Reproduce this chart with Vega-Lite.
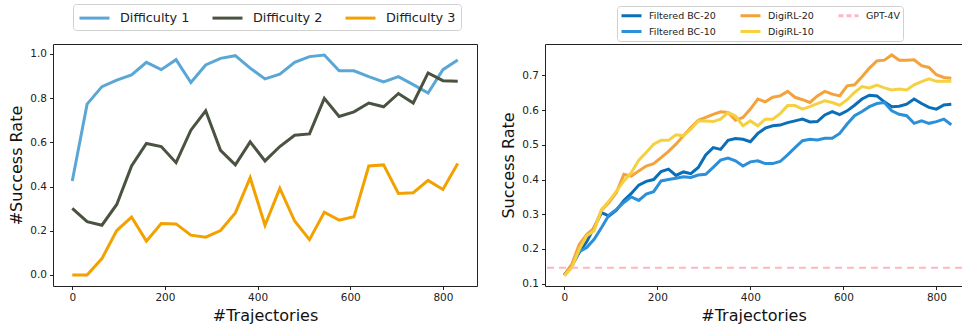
{
  "$schema": "https://vega.github.io/schema/vega-lite/v6.json",
  "autosize": {"type": "pad"},
  "padding": {"left": 8, "top": 3, "right": 0, "bottom": 0},
  "bounds": "flush",
  "spacing": 68,
  "resolve": {"scale": {"color": "independent"}, "legend": {"color": "independent"}},
  "config": {
    "font": "DejaVu Sans",
    "view": {"stroke": "#222", "strokeWidth": 1},
    "axis": {"grid": false, "domain": false, "tickColor": "#222", "tickSize": 3.5, "labelFontSize": 10.5, "labelColor": "#222", "titleFontSize": 16, "titleFontWeight": "normal", "titleColor": "#111", "labelPadding": 3, "titlePadding": 4, "labelFlush": false, "labelOverlap": false},
    "legend": {"fillColor": "white", "strokeColor": "#d0d0d0", "cornerRadius": 3, "labelColor": "#222", "symbolStrokeWidth": 3}
  },
  "hconcat": [
    {
      "width": 424,
      "height": 242,
      "data": {"values": [
        {"s":"Difficulty 1","t":0,"v":0.425},{"s":"Difficulty 1","t":32,"v":0.773},{"s":"Difficulty 1","t":64,"v":0.852},{"s":"Difficulty 1","t":96,"v":0.882},{"s":"Difficulty 1","t":128,"v":0.905},{"s":"Difficulty 1","t":160,"v":0.962},{"s":"Difficulty 1","t":192,"v":0.929},{"s":"Difficulty 1","t":224,"v":0.974},{"s":"Difficulty 1","t":256,"v":0.871},{"s":"Difficulty 1","t":288,"v":0.95},{"s":"Difficulty 1","t":320,"v":0.98},{"s":"Difficulty 1","t":352,"v":0.992},{"s":"Difficulty 1","t":384,"v":0.936},{"s":"Difficulty 1","t":416,"v":0.887},{"s":"Difficulty 1","t":448,"v":0.908},{"s":"Difficulty 1","t":480,"v":0.962},{"s":"Difficulty 1","t":512,"v":0.988},{"s":"Difficulty 1","t":544,"v":0.995},{"s":"Difficulty 1","t":576,"v":0.924},{"s":"Difficulty 1","t":608,"v":0.924},{"s":"Difficulty 1","t":640,"v":0.897},{"s":"Difficulty 1","t":672,"v":0.873},{"s":"Difficulty 1","t":704,"v":0.897},{"s":"Difficulty 1","t":736,"v":0.861},{"s":"Difficulty 1","t":768,"v":0.823},{"s":"Difficulty 1","t":800,"v":0.929},{"s":"Difficulty 1","t":832,"v":0.973},
        {"s":"Difficulty 2","t":0,"v":0.301},{"s":"Difficulty 2","t":32,"v":0.241},{"s":"Difficulty 2","t":64,"v":0.225},{"s":"Difficulty 2","t":96,"v":0.319},{"s":"Difficulty 2","t":128,"v":0.493},{"s":"Difficulty 2","t":160,"v":0.595},{"s":"Difficulty 2","t":192,"v":0.581},{"s":"Difficulty 2","t":224,"v":0.508},{"s":"Difficulty 2","t":256,"v":0.655},{"s":"Difficulty 2","t":288,"v":0.743},{"s":"Difficulty 2","t":320,"v":0.564},{"s":"Difficulty 2","t":352,"v":0.498},{"s":"Difficulty 2","t":384,"v":0.602},{"s":"Difficulty 2","t":416,"v":0.516},{"s":"Difficulty 2","t":448,"v":0.581},{"s":"Difficulty 2","t":480,"v":0.632},{"s":"Difficulty 2","t":512,"v":0.638},{"s":"Difficulty 2","t":544,"v":0.799},{"s":"Difficulty 2","t":576,"v":0.717},{"s":"Difficulty 2","t":608,"v":0.738},{"s":"Difficulty 2","t":640,"v":0.778},{"s":"Difficulty 2","t":672,"v":0.761},{"s":"Difficulty 2","t":704,"v":0.821},{"s":"Difficulty 2","t":736,"v":0.778},{"s":"Difficulty 2","t":768,"v":0.914},{"s":"Difficulty 2","t":800,"v":0.879},{"s":"Difficulty 2","t":832,"v":0.877},
        {"s":"Difficulty 3","t":0,"v":0},{"s":"Difficulty 3","t":32,"v":0},{"s":"Difficulty 3","t":64,"v":0.074},{"s":"Difficulty 3","t":96,"v":0.201},{"s":"Difficulty 3","t":128,"v":0.262},{"s":"Difficulty 3","t":160,"v":0.153},{"s":"Difficulty 3","t":192,"v":0.233},{"s":"Difficulty 3","t":224,"v":0.231},{"s":"Difficulty 3","t":256,"v":0.18},{"s":"Difficulty 3","t":288,"v":0.171},{"s":"Difficulty 3","t":320,"v":0.201},{"s":"Difficulty 3","t":352,"v":0.281},{"s":"Difficulty 3","t":384,"v":0.44},{"s":"Difficulty 3","t":416,"v":0.225},{"s":"Difficulty 3","t":448,"v":0.392},{"s":"Difficulty 3","t":480,"v":0.244},{"s":"Difficulty 3","t":512,"v":0.16},{"s":"Difficulty 3","t":544,"v":0.284},{"s":"Difficulty 3","t":576,"v":0.248},{"s":"Difficulty 3","t":608,"v":0.263},{"s":"Difficulty 3","t":640,"v":0.493},{"s":"Difficulty 3","t":672,"v":0.498},{"s":"Difficulty 3","t":704,"v":0.369},{"s":"Difficulty 3","t":736,"v":0.372},{"s":"Difficulty 3","t":768,"v":0.428},{"s":"Difficulty 3","t":800,"v":0.387},{"s":"Difficulty 3","t":832,"v":0.504}
      ]},
      "mark": {"type": "line", "strokeWidth": 3, "clip": true},
      "encoding": {
        "x": {"field": "t", "type": "quantitative", "scale": {"domain": [-41.6, 873.6], "nice": false, "zero": false}, "axis": {"values": [0, 200, 400, 600, 800], "title": "#Trajectories"}},
        "y": {"field": "v", "type": "quantitative", "scale": {"domain": [-0.05, 1.045], "nice": false, "zero": false}, "axis": {"values": [0, 0.2, 0.4, 0.6, 0.8, 1.0], "format": ".1f", "title": "#Success Rate", "titlePadding": 5}},
        "color": {"field": "s", "type": "nominal", "scale": {"domain": ["Difficulty 1", "Difficulty 2", "Difficulty 3"], "range": ["#5aa7d6", "#4a5240", "#f2a200"]},
          "legend": {"title": null, "orient": "none", "legendX": 20, "legendY": -40, "columns": 3, "labelFontSize": 12.8, "symbolSize": 225, "symbolType": "M-1,0H3", "columnPadding": 16, "labelOffset": 24, "padding": 5}}
      }
    },
    {
      "width": 417,
      "height": 242,
      "layer": [
        {
          "data": {"values": [
            {"s":"Filtered BC-20","t":0,"v":0.125},{"s":"Filtered BC-20","t":16,"v":0.151},{"s":"Filtered BC-20","t":32,"v":0.19},{"s":"Filtered BC-20","t":48,"v":0.221},{"s":"Filtered BC-20","t":64,"v":0.262},{"s":"Filtered BC-20","t":80,"v":0.305},{"s":"Filtered BC-20","t":96,"v":0.295},{"s":"Filtered BC-20","t":112,"v":0.312},{"s":"Filtered BC-20","t":128,"v":0.34},{"s":"Filtered BC-20","t":144,"v":0.36},{"s":"Filtered BC-20","t":160,"v":0.384},{"s":"Filtered BC-20","t":176,"v":0.395},{"s":"Filtered BC-20","t":192,"v":0.4},{"s":"Filtered BC-20","t":208,"v":0.423},{"s":"Filtered BC-20","t":224,"v":0.43},{"s":"Filtered BC-20","t":240,"v":0.412},{"s":"Filtered BC-20","t":256,"v":0.422},{"s":"Filtered BC-20","t":272,"v":0.417},{"s":"Filtered BC-20","t":288,"v":0.435},{"s":"Filtered BC-20","t":304,"v":0.471},{"s":"Filtered BC-20","t":320,"v":0.492},{"s":"Filtered BC-20","t":336,"v":0.487},{"s":"Filtered BC-20","t":352,"v":0.513},{"s":"Filtered BC-20","t":368,"v":0.518},{"s":"Filtered BC-20","t":384,"v":0.516},{"s":"Filtered BC-20","t":400,"v":0.509},{"s":"Filtered BC-20","t":416,"v":0.533},{"s":"Filtered BC-20","t":432,"v":0.548},{"s":"Filtered BC-20","t":448,"v":0.555},{"s":"Filtered BC-20","t":464,"v":0.557},{"s":"Filtered BC-20","t":480,"v":0.564},{"s":"Filtered BC-20","t":496,"v":0.569},{"s":"Filtered BC-20","t":512,"v":0.574},{"s":"Filtered BC-20","t":528,"v":0.566},{"s":"Filtered BC-20","t":544,"v":0.567},{"s":"Filtered BC-20","t":560,"v":0.586},{"s":"Filtered BC-20","t":576,"v":0.596},{"s":"Filtered BC-20","t":592,"v":0.587},{"s":"Filtered BC-20","t":608,"v":0.598},{"s":"Filtered BC-20","t":624,"v":0.614},{"s":"Filtered BC-20","t":640,"v":0.632},{"s":"Filtered BC-20","t":656,"v":0.643},{"s":"Filtered BC-20","t":672,"v":0.641},{"s":"Filtered BC-20","t":688,"v":0.624},{"s":"Filtered BC-20","t":704,"v":0.61},{"s":"Filtered BC-20","t":720,"v":0.611},{"s":"Filtered BC-20","t":736,"v":0.617},{"s":"Filtered BC-20","t":752,"v":0.632},{"s":"Filtered BC-20","t":768,"v":0.619},{"s":"Filtered BC-20","t":784,"v":0.608},{"s":"Filtered BC-20","t":800,"v":0.603},{"s":"Filtered BC-20","t":816,"v":0.615},{"s":"Filtered BC-20","t":832,"v":0.617},
            {"s":"Filtered BC-10","t":0,"v":0.125},{"s":"Filtered BC-10","t":16,"v":0.154},{"s":"Filtered BC-10","t":32,"v":0.192},{"s":"Filtered BC-10","t":48,"v":0.204},{"s":"Filtered BC-10","t":64,"v":0.228},{"s":"Filtered BC-10","t":80,"v":0.262},{"s":"Filtered BC-10","t":96,"v":0.298},{"s":"Filtered BC-10","t":112,"v":0.314},{"s":"Filtered BC-10","t":128,"v":0.334},{"s":"Filtered BC-10","t":144,"v":0.35},{"s":"Filtered BC-10","t":160,"v":0.34},{"s":"Filtered BC-10","t":176,"v":0.358},{"s":"Filtered BC-10","t":192,"v":0.365},{"s":"Filtered BC-10","t":208,"v":0.396},{"s":"Filtered BC-10","t":224,"v":0.4},{"s":"Filtered BC-10","t":240,"v":0.404},{"s":"Filtered BC-10","t":256,"v":0.408},{"s":"Filtered BC-10","t":272,"v":0.406},{"s":"Filtered BC-10","t":288,"v":0.413},{"s":"Filtered BC-10","t":304,"v":0.415},{"s":"Filtered BC-10","t":320,"v":0.435},{"s":"Filtered BC-10","t":336,"v":0.456},{"s":"Filtered BC-10","t":352,"v":0.462},{"s":"Filtered BC-10","t":368,"v":0.454},{"s":"Filtered BC-10","t":384,"v":0.439},{"s":"Filtered BC-10","t":400,"v":0.451},{"s":"Filtered BC-10","t":416,"v":0.454},{"s":"Filtered BC-10","t":432,"v":0.446},{"s":"Filtered BC-10","t":448,"v":0.446},{"s":"Filtered BC-10","t":464,"v":0.452},{"s":"Filtered BC-10","t":480,"v":0.471},{"s":"Filtered BC-10","t":496,"v":0.492},{"s":"Filtered BC-10","t":512,"v":0.512},{"s":"Filtered BC-10","t":528,"v":0.516},{"s":"Filtered BC-10","t":544,"v":0.514},{"s":"Filtered BC-10","t":560,"v":0.519},{"s":"Filtered BC-10","t":576,"v":0.519},{"s":"Filtered BC-10","t":592,"v":0.533},{"s":"Filtered BC-10","t":608,"v":0.56},{"s":"Filtered BC-10","t":624,"v":0.584},{"s":"Filtered BC-10","t":640,"v":0.596},{"s":"Filtered BC-10","t":656,"v":0.61},{"s":"Filtered BC-10","t":672,"v":0.619},{"s":"Filtered BC-10","t":688,"v":0.622},{"s":"Filtered BC-10","t":704,"v":0.598},{"s":"Filtered BC-10","t":720,"v":0.588},{"s":"Filtered BC-10","t":736,"v":0.584},{"s":"Filtered BC-10","t":752,"v":0.562},{"s":"Filtered BC-10","t":768,"v":0.569},{"s":"Filtered BC-10","t":784,"v":0.562},{"s":"Filtered BC-10","t":800,"v":0.567},{"s":"Filtered BC-10","t":816,"v":0.574},{"s":"Filtered BC-10","t":832,"v":0.558},
            {"s":"DigiRL-20","t":0,"v":0.125},{"s":"DigiRL-20","t":16,"v":0.156},{"s":"DigiRL-20","t":32,"v":0.213},{"s":"DigiRL-20","t":48,"v":0.242},{"s":"DigiRL-20","t":64,"v":0.26},{"s":"DigiRL-20","t":80,"v":0.312},{"s":"DigiRL-20","t":96,"v":0.334},{"s":"DigiRL-20","t":112,"v":0.363},{"s":"DigiRL-20","t":128,"v":0.415},{"s":"DigiRL-20","t":144,"v":0.41},{"s":"DigiRL-20","t":160,"v":0.425},{"s":"DigiRL-20","t":176,"v":0.439},{"s":"DigiRL-20","t":192,"v":0.446},{"s":"DigiRL-20","t":208,"v":0.463},{"s":"DigiRL-20","t":224,"v":0.481},{"s":"DigiRL-20","t":240,"v":0.502},{"s":"DigiRL-20","t":256,"v":0.526},{"s":"DigiRL-20","t":272,"v":0.55},{"s":"DigiRL-20","t":288,"v":0.571},{"s":"DigiRL-20","t":304,"v":0.579},{"s":"DigiRL-20","t":320,"v":0.588},{"s":"DigiRL-20","t":336,"v":0.595},{"s":"DigiRL-20","t":352,"v":0.593},{"s":"DigiRL-20","t":368,"v":0.571},{"s":"DigiRL-20","t":384,"v":0.579},{"s":"DigiRL-20","t":400,"v":0.603},{"s":"DigiRL-20","t":416,"v":0.632},{"s":"DigiRL-20","t":432,"v":0.624},{"s":"DigiRL-20","t":448,"v":0.637},{"s":"DigiRL-20","t":464,"v":0.641},{"s":"DigiRL-20","t":480,"v":0.654},{"s":"DigiRL-20","t":496,"v":0.637},{"s":"DigiRL-20","t":512,"v":0.63},{"s":"DigiRL-20","t":528,"v":0.622},{"s":"DigiRL-20","t":544,"v":0.641},{"s":"DigiRL-20","t":560,"v":0.654},{"s":"DigiRL-20","t":576,"v":0.646},{"s":"DigiRL-20","t":592,"v":0.641},{"s":"DigiRL-20","t":608,"v":0.67},{"s":"DigiRL-20","t":624,"v":0.673},{"s":"DigiRL-20","t":640,"v":0.696},{"s":"DigiRL-20","t":656,"v":0.721},{"s":"DigiRL-20","t":672,"v":0.742},{"s":"DigiRL-20","t":688,"v":0.744},{"s":"DigiRL-20","t":704,"v":0.759},{"s":"DigiRL-20","t":720,"v":0.744},{"s":"DigiRL-20","t":736,"v":0.744},{"s":"DigiRL-20","t":752,"v":0.745},{"s":"DigiRL-20","t":768,"v":0.728},{"s":"DigiRL-20","t":784,"v":0.723},{"s":"DigiRL-20","t":800,"v":0.702},{"s":"DigiRL-20","t":816,"v":0.694},{"s":"DigiRL-20","t":832,"v":0.692},
            {"s":"DigiRL-10","t":0,"v":0.122},{"s":"DigiRL-10","t":16,"v":0.146},{"s":"DigiRL-10","t":32,"v":0.199},{"s":"DigiRL-10","t":48,"v":0.238},{"s":"DigiRL-10","t":64,"v":0.252},{"s":"DigiRL-10","t":80,"v":0.314},{"s":"DigiRL-10","t":96,"v":0.338},{"s":"DigiRL-10","t":112,"v":0.367},{"s":"DigiRL-10","t":128,"v":0.396},{"s":"DigiRL-10","t":144,"v":0.42},{"s":"DigiRL-10","t":160,"v":0.456},{"s":"DigiRL-10","t":176,"v":0.478},{"s":"DigiRL-10","t":192,"v":0.502},{"s":"DigiRL-10","t":208,"v":0.513},{"s":"DigiRL-10","t":224,"v":0.513},{"s":"DigiRL-10","t":240,"v":0.529},{"s":"DigiRL-10","t":256,"v":0.526},{"s":"DigiRL-10","t":272,"v":0.545},{"s":"DigiRL-10","t":288,"v":0.569},{"s":"DigiRL-10","t":304,"v":0.569},{"s":"DigiRL-10","t":320,"v":0.567},{"s":"DigiRL-10","t":336,"v":0.574},{"s":"DigiRL-10","t":352,"v":0.593},{"s":"DigiRL-10","t":368,"v":0.583},{"s":"DigiRL-10","t":384,"v":0.555},{"s":"DigiRL-10","t":400,"v":0.569},{"s":"DigiRL-10","t":416,"v":0.555},{"s":"DigiRL-10","t":432,"v":0.574},{"s":"DigiRL-10","t":448,"v":0.574},{"s":"DigiRL-10","t":464,"v":0.59},{"s":"DigiRL-10","t":480,"v":0.613},{"s":"DigiRL-10","t":496,"v":0.613},{"s":"DigiRL-10","t":512,"v":0.603},{"s":"DigiRL-10","t":528,"v":0.61},{"s":"DigiRL-10","t":544,"v":0.619},{"s":"DigiRL-10","t":560,"v":0.627},{"s":"DigiRL-10","t":576,"v":0.622},{"s":"DigiRL-10","t":592,"v":0.614},{"s":"DigiRL-10","t":608,"v":0.63},{"s":"DigiRL-10","t":624,"v":0.651},{"s":"DigiRL-10","t":640,"v":0.668},{"s":"DigiRL-10","t":656,"v":0.664},{"s":"DigiRL-10","t":672,"v":0.672},{"s":"DigiRL-10","t":688,"v":0.664},{"s":"DigiRL-10","t":704,"v":0.658},{"s":"DigiRL-10","t":720,"v":0.661},{"s":"DigiRL-10","t":736,"v":0.658},{"s":"DigiRL-10","t":752,"v":0.673},{"s":"DigiRL-10","t":768,"v":0.682},{"s":"DigiRL-10","t":784,"v":0.69},{"s":"DigiRL-10","t":800,"v":0.683},{"s":"DigiRL-10","t":816,"v":0.683},{"s":"DigiRL-10","t":832,"v":0.683}
          ]},
          "mark": {"type": "line", "strokeWidth": 3, "clip": true},
          "encoding": {
            "x": {"field": "t", "type": "quantitative", "scale": {"domain": [-41.6, 855], "nice": false, "zero": false}, "axis": {"values": [0, 200, 400, 600, 800], "title": "#Trajectories"}},
            "y": {"field": "v", "type": "quantitative", "scale": {"domain": [0.0934, 0.7905], "nice": false, "zero": false}, "axis": {"values": [0.1, 0.2, 0.3, 0.4, 0.5, 0.6, 0.7], "format": ".1f", "title": "Success Rate", "titlePadding": 5}}
          }
        },
        {
          "data": {"values": [{"s": "GPT-4V", "v": 0.146}]},
          "mark": {"type": "rule", "strokeWidth": 2, "strokeDash": [7, 5]},
          "encoding": {
            "y": {"field": "v", "type": "quantitative"}
          }
        }
      ],
      "encoding": {
        "color": {"field": "s", "type": "nominal", "scale": {"domain": ["Filtered BC-20", "Filtered BC-10", "DigiRL-20", "DigiRL-10", "GPT-4V"], "range": ["#0a6fb8", "#2b90d9", "#f4a23c", "#f5d142", "#ffb6c1"]},
          "legend": {"title": null, "orient": "none", "legendX": 72, "legendY": -38, "columns": 3, "labelFontSize": 9.5, "symbolSize": 100, "symbolType": "M-1,0H3", "columnPadding": 18, "labelOffset": 16, "rowPadding": 3, "padding": 3,
            "encode": {"symbols": {"update": {"strokeDash": {"signal": "datum.label === 'GPT-4V' ? [5, 3] : [1, 0]"}}}}}}
      }
    }
  ]
}
